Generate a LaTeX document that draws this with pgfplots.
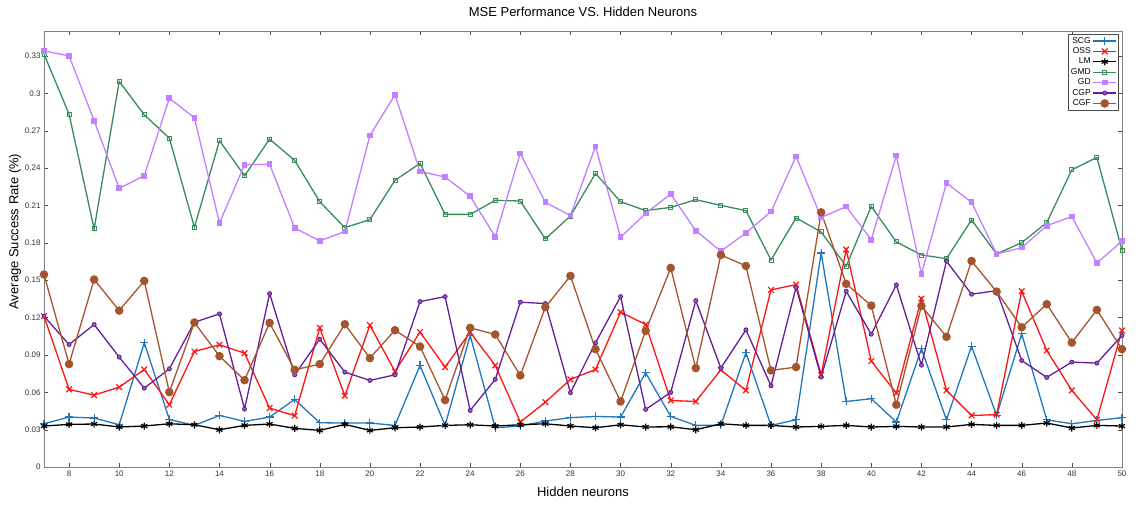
\documentclass[border=0pt]{standalone}
\usepackage{pgfplots}
\pgfplotsset{compat=1.18}
\usepackage{fontspec}
\setmainfont{Liberation Sans}
\definecolor{cSCG}{RGB}{31,119,190}
\definecolor{cOSS}{RGB}{255,20,20}
\definecolor{cGMD}{RGB}{55,140,90}
\definecolor{cGD}{RGB}{192,128,255}
\definecolor{cCGP}{RGB}{100,30,150}
\definecolor{cCGF}{RGB}{165,85,45}
\begin{document}
\begin{tikzpicture}
\path[use as bounding box] (-44pt,-39pt) rectangle (1094pt,467pt);
\begin{axis}[
  scale only axis, width=1078pt, height=436pt,
  anchor=south west, at={(0pt,0pt)},
  xmin=7, xmax=50, ymin=0, ymax=0.35,
  xtick={8,10,...,50},
  ytick={0,0.03,0.06,0.09,0.12,0.15,0.18,0.21,0.24,0.27,0.3,0.33},
  yticklabels={0,0.03,0.06,0.09,0.12,0.15,0.18,0.21,0.24,0.27,0.3,0.33},
  /pgf/number format/assume math mode=true,
  tick label style={font=\fontsize{8}{9}\selectfont, text=black!80},
  axis line style={gray},
  major tick length=4pt,
  tick style={black!70},
  title={MSE Performance VS. Hidden Neurons},
  title style={at={(axis description cs:0.5,1.0298)}, anchor=center, font=\fontsize{13}{15}\selectfont},
  xlabel={Hidden neurons},
  xlabel style={at={(axis description cs:0.5,-0.0573)}, anchor=center, font=\fontsize{13}{15}\selectfont},
  ylabel={Average Success Rate (\%)},
  ylabel style={at={(axis description cs:-0.0269,0.54)}, anchor=center, font=\fontsize{13}{15}\selectfont},
  legend plot pos=right,
  legend cell align=right,
  legend style={at={(axis description cs:0.9963,0.993)}, anchor=north east, font=\fontsize{8.5}{9}\selectfont, row sep=-1pt, inner sep=1pt, draw=black!70},
  legend image code/.code={\draw[mark repeat=2,mark phase=2] plot coordinates {(0cm,0cm) (0.4cm,0cm) (0.8cm,0cm)};},
  every axis plot/.append style={line width=1.3pt},
]
\addplot[color=cSCG, mark=+, mark size=4pt, mark options={line width=1.2pt}] coordinates {
(7,0.0347)(8,0.0401)(9,0.0393)(10,0.0339)(11,0.0997)(12,0.0382)(13,0.0334)(14,0.0414)(15,0.0366)(16,0.0401)
(17,0.0542)(18,0.0355)(19,0.0353)(20,0.0353)(21,0.0334)(22,0.0815)(23,0.0334)(24,0.1056)(25,0.0315)(26,0.0329)
(27,0.0369)(28,0.0396)(29,0.0406)(30,0.0401)(31,0.0756)(32,0.0406)(33,0.0334)(34,0.0334)(35,0.0917)(36,0.0334)
(37,0.0379)(38,0.1718)(39,0.0526)(40,0.0548)(41,0.0361)(42,0.0949)(43,0.0379)(44,0.0970)(45,0.0414)(46,0.1069)
(47,0.0379)(48,0.0347)(49,0.0374)(50,0.0396)};
\addlegendentry{SCG}
\addplot[color=cOSS, mark=x, mark size=4pt, mark options={line width=1.2pt}] coordinates {
(7,0.1211)(8,0.0623)(9,0.0577)(10,0.0641)(11,0.0783)(12,0.0500)(13,0.0927)(14,0.0981)(15,0.0914)(16,0.0473)
(17,0.0412)(18,0.1117)(19,0.0572)(20,0.1138)(21,0.0767)(22,0.1083)(23,0.0802)(24,0.1083)(25,0.0815)(26,0.0361)
(27,0.0521)(28,0.0703)(29,0.0783)(30,0.1243)(31,0.1144)(32,0.0534)(33,0.0526)(34,0.0780)(35,0.0615)(36,0.1422)
(37,0.1464)(38,0.0740)(39,0.1745)(40,0.0850)(41,0.0593)(42,0.1352)(43,0.0615)(44,0.0414)(45,0.0420)(46,0.1411)
(47,0.0935)(48,0.0615)(49,0.0379)(50,0.1096)};
\addlegendentry{OSS}
\addplot[color=black, mark=asterisk, mark size=3.5pt, mark options={line width=1.2pt}] coordinates {
(7,0.0329)(8,0.0342)(9,0.0345)(10,0.0321)(11,0.0329)(12,0.0347)(13,0.0339)(14,0.0299)(15,0.0334)(16,0.0345)
(17,0.0310)(18,0.0294)(19,0.0342)(20,0.0294)(21,0.0315)(22,0.0321)(23,0.0334)(24,0.0339)(25,0.0329)(26,0.0339)
(27,0.0347)(28,0.0329)(29,0.0315)(30,0.0339)(31,0.0321)(32,0.0323)(33,0.0299)(34,0.0347)(35,0.0334)(36,0.0334)
(37,0.0321)(38,0.0326)(39,0.0334)(40,0.0321)(41,0.0326)(42,0.0321)(43,0.0321)(44,0.0342)(45,0.0334)(46,0.0334)
(47,0.0353)(48,0.0313)(49,0.0334)(50,0.0329)};
\addlegendentry{LM}
\addplot[color=cGMD, mark=square, mark size=2pt, mark options={line width=0.9pt}] coordinates {
(7,0.3314)(8,0.2833)(9,0.1911)(10,0.3095)(11,0.2827)(12,0.2640)(13,0.1924)(14,0.2619)(15,0.2338)(16,0.2632)
(17,0.2461)(18,0.2130)(19,0.1921)(20,0.1986)(21,0.2301)(22,0.2437)(23,0.2028)(24,0.2028)(25,0.2141)(26,0.2135)
(27,0.1831)(28,0.2015)(29,0.2357)(30,0.2130)(31,0.2058)(32,0.2084)(33,0.2146)(34,0.2100)(35,0.2058)(36,0.1662)
(37,0.1999)(38,0.1887)(39,0.1611)(40,0.2092)(41,0.1807)(42,0.1702)(43,0.1673)(44,0.1983)(45,0.1710)(46,0.1801)
(47,0.1962)(48,0.2386)(49,0.2485)(50,0.1742)};
\addlegendentry{GMD}
\addplot[color=cGD, mark=square*, mark size=2.2pt] coordinates {
(7,0.3340)(8,0.3300)(9,0.2780)(10,0.2237)(11,0.2338)(12,0.2960)(13,0.2803)(14,0.1959)(15,0.2427)(16,0.2430)
(17,0.1919)(18,0.1815)(19,0.1890)(20,0.2660)(21,0.2988)(22,0.2373)(23,0.2328)(24,0.2173)(25,0.1849)(26,0.2517)
(27,0.2125)(28,0.2018)(29,0.2573)(30,0.1844)(31,0.2036)(32,0.2191)(33,0.1897)(34,0.1732)(35,0.1879)(36,0.2050)
(37,0.2493)(38,0.2004)(39,0.2090)(40,0.1825)(41,0.2501)(42,0.1550)(43,0.2280)(44,0.2125)(45,0.1710)(46,0.1761)
(47,0.1937)(48,0.2010)(49,0.1638)(50,0.1812)};
\addlegendentry{GD}
\addplot[color=cCGP, mark=*, mark size=2pt, mark options={fill=cCGP!70!white, line width=0.9pt}] coordinates {
(7,0.1211)(8,0.0983)(9,0.1144)(10,0.0882)(11,0.0633)(12,0.0788)(13,0.1162)(14,0.1229)(15,0.0465)(16,0.1392)
(17,0.0740)(18,0.1026)(19,0.0762)(20,0.0695)(21,0.0740)(22,0.1328)(23,0.1368)(24,0.0454)(25,0.0703)(26,0.1323)
(27,0.1312)(28,0.0596)(29,0.0997)(30,0.1368)(31,0.0462)(32,0.0599)(33,0.1336)(34,0.0794)(35,0.1101)(36,0.0652)
(37,0.1443)(38,0.0722)(39,0.1411)(40,0.1066)(41,0.1462)(42,0.0818)(43,0.1652)(44,0.1387)(45,0.1416)(46,0.0855)
(47,0.0719)(48,0.0842)(49,0.0834)(50,0.1056)};
\addlegendentry{CGP}
\addplot[color=cCGF, mark=*, mark size=3.6pt] coordinates {
(7,0.1545)(8,0.0826)(9,0.1505)(10,0.1256)(11,0.1494)(12,0.0601)(13,0.1160)(14,0.0890)(15,0.0697)(16,0.1157)
(17,0.0780)(18,0.0826)(19,0.1146)(20,0.0874)(21,0.1098)(22,0.0967)(23,0.0537)(24,0.1117)(25,0.1064)(26,0.0735)
(27,0.1283)(28,0.1534)(29,0.0946)(30,0.0526)(31,0.1093)(32,0.1598)(33,0.0794)(34,0.1702)(35,0.1614)(36,0.0775)
(37,0.0802)(38,0.2044)(39,0.1470)(40,0.1296)(41,0.0500)(42,0.1293)(43,0.1045)(44,0.1654)(45,0.1408)(46,0.1122)
(47,0.1307)(48,0.0999)(49,0.1261)(50,0.0946)};
\addlegendentry{CGF}
\end{axis}
\end{tikzpicture}
\end{document}
